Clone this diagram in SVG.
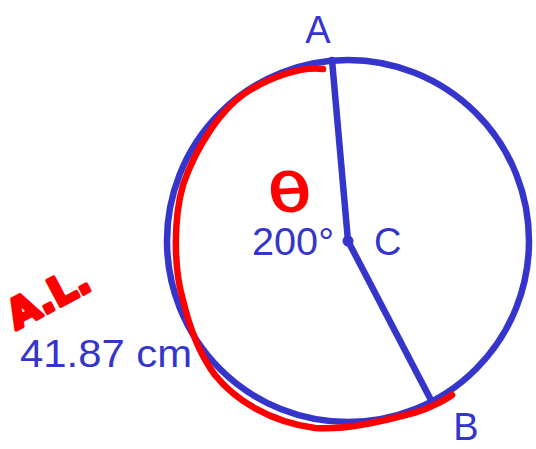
<svg xmlns="http://www.w3.org/2000/svg" width="536" height="449" viewBox="0 0 536 449">
<style>
.blue{stroke:#3535cc;stroke-width:6.5;fill:none;stroke-linecap:round}
.lbl{font-family:"Liberation Sans",Arial,sans-serif;font-size:38px;fill:#3535cc}
.red{stroke:#ff0000;stroke-width:6.5;fill:none;stroke-linecap:round;stroke-linejoin:round}
.hand{font-family:"DejaVu Sans",sans-serif;fill:#ff0000;stroke:#ff0000;stroke-linejoin:round}
</style>
<rect width="536" height="449" fill="#ffffff"/>
<g id="circle">
<circle class="blue" cx="348" cy="241" r="181"/>
</g>
<g id="connectors">
<line class="blue" x1="348" y1="241" x2="332" y2="60"/>
<line class="blue" x1="348" y1="241" x2="432" y2="402"/>
</g>
<g id="center-C">
<circle cx="348" cy="241" r="5.5" fill="#3535cc"/>
<text class="lbl" x="374" y="255">C</text>
</g>
<g id="arc">
<path class="red" d="M323,69 C300,66 270,78 250,90 C220,108 195,150 183,185 C173,220 174,270 183,300 C190,330 200,355 215,375 C235,400 270,422 315,428 C345,430 380,422 417,412 C430,408 445,400 452,395"/>
</g>
<g id="label-A"><text class="lbl" x="318" y="43" text-anchor="middle">A</text></g>
<g id="label-B"><text class="lbl" x="466" y="440" text-anchor="middle">B</text></g>
<g id="angle"><text class="lbl" x="252" y="255" textLength="82" lengthAdjust="spacingAndGlyphs">200°</text></g>
<g id="theta"><text class="hand" x="0" y="0" font-size="52" stroke-width="1.5" text-anchor="middle" transform="translate(292,211) scale(1.35,1) rotate(-5)">θ</text></g>
<g id="al"><text class="hand" x="0" y="0" font-size="40" font-weight="bold" stroke-width="3.5" transform="translate(16,330) rotate(-28)">A.L.</text></g>
<g id="length"><text class="lbl" x="20" y="367" textLength="172" lengthAdjust="spacingAndGlyphs">41.87 cm</text></g>
</svg>
